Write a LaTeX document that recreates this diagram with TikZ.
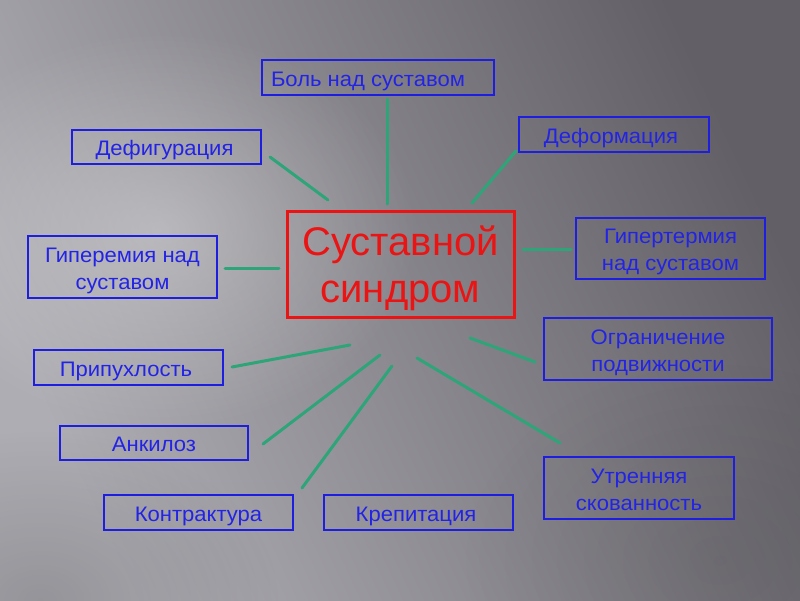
\documentclass[tikz,border=0pt]{standalone}
\usepackage{fontspec}
\setmainfont{Liberation Sans}
\newfontfamily\boxfont{Liberation Sans}[FakeStretch=1.05]
\usetikzlibrary{fadings}
\definecolor{bgL}{HTML}{AEADB3}
\definecolor{bgR}{HTML}{626066}
\definecolor{boxblue}{RGB}{30,30,225}
\definecolor{txtblue}{RGB}{35,35,230}
\definecolor{cred}{RGB}{235,20,20}
\definecolor{lgreen}{RGB}{45,165,120}
\tikzfading[name=spotfade, inner color=transparent!0, outer color=transparent!100]
\newcommand{\bst}{\rule[-4.5pt]{0pt}{26.5pt}}
\newcommand{\cst}{\rule{0pt}{38pt}}
\newcommand{\cdp}{\rule[-9pt]{0pt}{9pt}}
\begin{document}
\begin{tikzpicture}[x=1pt,y=-1pt,
  lbox/.style={draw=boxblue, line width=1.8pt, inner sep=0pt, align=center,
    text=txtblue, font=\boxfont\fontsize{21}{27}\selectfont},
  cbox/.style={draw=cred, line width=3pt, inner sep=0pt, align=center,
    text=cred, font=\fontsize{40}{47}\selectfont},
  conn/.style={draw=lgreen, line width=3pt, line cap=round}]
\useasboundingbox (0,0) rectangle (800,600);
% background
\shade[left color=bgL, right color=bgR, shading angle=115] (0,0) rectangle (800,600);
\fill[white, opacity=0.3, path fading=spotfade] (160,230) ellipse [x radius=260, y radius=200];
\fill[black, opacity=0.08, path fading=spotfade] (720,560) ellipse [x radius=260, y radius=200];
\fill[black, opacity=0.14, path fading=spotfade] (40,600) ellipse [x radius=240, y radius=170];
% nodes
\node[cbox, minimum width=227pt, minimum height=106pt] (c) at (400.5,264) {\cst Суставной\\синдром\cdp};
\node[lbox, minimum width=232pt, minimum height=35pt] (bol) at (378,77.5) {\bst Боль над суставом\hspace*{20pt}};
\node[lbox, minimum width=189pt, minimum height=34pt] (defig) at (166.5,147) {\bst Дефигурация\hspace*{4pt}};
\node[lbox, minimum width=190pt, minimum height=35pt] (deform) at (614,134.5) {\bst Деформация\hspace*{6pt}};
\node[lbox, minimum width=189pt, minimum height=62pt] (giperem) at (122.5,267) {\bst Гиперемия над\\\bst суставом};
\node[lbox, minimum width=189pt, minimum height=61pt] (giperterm) at (670.5,248.5) {\bst Гипертермия\\\bst над суставом};
\node[lbox, minimum width=189pt, minimum height=35pt] (pripuh) at (128.5,367.5) {\bst Припухлость\hspace*{5pt}};
\node[lbox, minimum width=228pt, minimum height=62pt] (ogran) at (658,349) {\bst Ограничение\\\bst подвижности};
\node[lbox, minimum width=188pt, minimum height=34pt] (ankil) at (154,443) {\bst Анкилоз};
\node[lbox, minimum width=190pt, minimum height=62pt] (utren) at (639,488) {\bst Утренняя\\\bst скованность};
\node[lbox, minimum width=189pt, minimum height=35pt] (kontr) at (198.5,512.5) {\bst Контрактура};
\node[lbox, minimum width=189pt, minimum height=35pt] (krepit) at (418.5,512.5) {\bst Крепитация\hspace*{5pt}};
% connector ends
\coordinate (bolA) at (387,99);   \coordinate (bolB) at (387,204);
\coordinate (defA) at (270,157);  \coordinate (defB) at (328,200);
\coordinate (dfmA) at (516,151);  \coordinate (dfmB) at (472,203);
\coordinate (gemA) at (225,268);  \coordinate (gemB) at (279,268);
\coordinate (gtmA) at (571,249);  \coordinate (gtmB) at (523,249);
\coordinate (priA) at (232,367);  \coordinate (priB) at (350,345);
\coordinate (ogrA) at (535,362);  \coordinate (ogrB) at (470,338);
\coordinate (ankA) at (263,444);  \coordinate (ankB) at (380,355);
\coordinate (konA) at (302,488);  \coordinate (konB) at (392,366);
\coordinate (utrA) at (560,443);  \coordinate (utrB) at (417,358);
\draw[conn] (bolA) -- (bolB);
\draw[conn] (defA) -- (defB);
\draw[conn] (dfmA) -- (dfmB);
\draw[conn] (gemA) -- (gemB);
\draw[conn] (gtmA) -- (gtmB);
\draw[conn] (priA) -- (priB);
\draw[conn] (ogrA) -- (ogrB);
\draw[conn] (ankA) -- (ankB);
\draw[conn] (konA) -- (konB);
\draw[conn] (utrA) -- (utrB);
\end{tikzpicture}
\end{document}
